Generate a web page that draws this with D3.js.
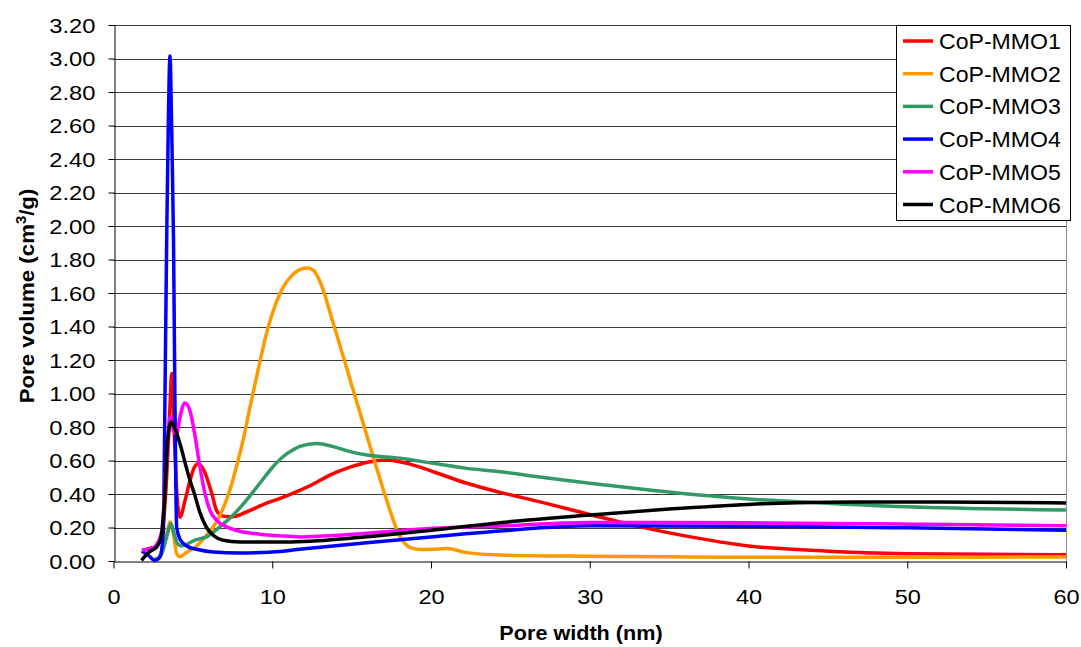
<!DOCTYPE html>
<html>
<head>
<meta charset="utf-8">
<script src="https://cdn.jsdelivr.net/npm/d3@7"></script>
<style>
  html, body { margin: 0; padding: 0; background: #fff; }
  text { font-family: "Liberation Sans", Arial, sans-serif; }
</style>
</head>
<body>
<svg id="chart" width="1081" height="647"></svg>
<script>
// ---- data ----
const seriesNames = ["CoP-MMO1", "CoP-MMO2", "CoP-MMO3", "CoP-MMO4", "CoP-MMO5", "CoP-MMO6"];
const xTicks = [0, 10, 20, 30, 40, 50, 60];
const yTicks = [0, 0.2, 0.4, 0.6, 0.8, 1.0, 1.2, 1.4, 1.6, 1.8, 2.0, 2.2, 2.4, 2.6, 2.8, 3.0, 3.2];

const mmo1 = [[1.8,0.065],[2.2,0.074],[2.6,0.084],[3.0,0.14],[3.3,0.42],[3.5,0.8],[3.68,1.12],[3.82,0.78],[3.98,0.42],[4.19,0.262],[4.5,0.36],[4.82,0.48],[5.1,0.56],[5.35,0.58],[5.7,0.54],[6.2,0.40],[6.5,0.30],[6.9,0.268],[7.5,0.264],[8.4,0.294],[9.6,0.344],[10.5,0.374],[11.7,0.42],[12.5,0.455],[13.8,0.52],[14.9,0.56],[16,0.59],[17.2,0.603],[18.5,0.583],[20.15,0.533],[22.25,0.464],[24.35,0.41],[27,0.35],[30,0.278],[32.7,0.214],[36,0.15],[40,0.09],[44.8,0.06],[50,0.044],[55,0.04],[60,0.038]];
const mmo2 = [[2.5,0.01],[2.8,0.01],[3.04,0.064],[3.35,0.163],[3.56,0.233],[3.77,0.163],[3.98,0.044],[4.19,0.026],[4.5,0.044],[4.82,0.064],[5.13,0.08],[5.5,0.115],[5.86,0.154],[6.49,0.234],[6.91,0.314],[7.33,0.424],[7.75,0.564],[8.17,0.724],[8.6,0.92],[9.2,1.18],[9.64,1.36],[10.2,1.53],[10.69,1.635],[11.3,1.71],[11.8,1.742],[12.23,1.75],[12.6,1.735],[13.0,1.67],[13.84,1.42],[15.1,1.02],[16.37,0.62],[17.2,0.364],[18.05,0.145],[18.7,0.08],[19.4,0.068],[20.15,0.07],[21,0.074],[22.25,0.05],[24.35,0.036],[30,0.028],[40,0.022],[50,0.022],[60,0.024]];
const mmo3 = [[2.6,0.004],[3.04,0.044],[3.35,0.143],[3.62,0.223],[3.82,0.163],[4.04,0.103],[4.29,0.09],[4.71,0.104],[5.13,0.125],[5.86,0.144],[6.7,0.204],[7.54,0.274],[8.38,0.364],[9.22,0.464],[10.06,0.564],[10.69,0.624],[11.32,0.664],[11.74,0.684],[12.8,0.702],[13.84,0.683],[14.9,0.653],[15.95,0.633],[18.05,0.613],[20.15,0.583],[22.25,0.553],[24.35,0.533],[27,0.5],[30,0.464],[33.9,0.422],[40,0.37],[43.1,0.354],[50,0.324],[60,0.304]];
const mmo4 = [[1.78,0.06],[2.2,0.034],[2.6,0.004],[2.93,0.024],[3.14,0.18],[3.24,0.96],[3.35,1.92],[3.45,2.6],[3.56,3.015],[3.66,2.6],[3.78,1.92],[3.87,0.96],[3.98,0.2],[4.19,0.13],[4.6,0.09],[5.23,0.07],[6.28,0.054],[7.96,0.048],[10,0.054],[11.74,0.07],[12.37,0.076],[15.95,0.109],[20.15,0.145],[24.35,0.179],[30,0.21],[40,0.208],[50,0.198],[60,0.184]];
const mmo5 = [[1.8,0.065],[2.2,0.07],[2.6,0.085],[2.73,0.1],[3.04,0.18],[3.35,0.62],[3.56,0.86],[3.77,0.78],[3.98,0.76],[4.19,0.86],[4.5,0.944],[4.82,0.895],[5.13,0.75],[5.44,0.564],[5.76,0.404],[6.07,0.304],[6.49,0.244],[7.12,0.204],[7.96,0.178],[9.22,0.16],[10.48,0.15],[11.74,0.144],[12.37,0.145],[15.95,0.165],[20.15,0.195],[24.35,0.209],[30,0.23],[40,0.228],[50,0.22],[60,0.21]];
const mmo6 = [[1.77,0.004],[2.09,0.04],[2.41,0.064],[2.72,0.084],[3.0,0.143],[3.2,0.342],[3.41,0.72],[3.62,0.83],[3.87,0.79],[4.19,0.70],[4.5,0.59],[4.82,0.48],[5.1,0.4],[5.44,0.29],[5.86,0.2],[6.28,0.154],[6.91,0.124],[7.96,0.114],[10,0.113],[12.37,0.118],[15.95,0.145],[20.15,0.185],[24.35,0.229],[30,0.274],[35,0.31],[40,0.338],[43.1,0.348],[46.7,0.352],[52,0.352],[60,0.346]];

const seriesData = [mmo1, mmo2, mmo3, mmo4, mmo5, mmo6];
const seriesColors = ["#FF0000", "#FF9900", "#339966", "#0000FF", "#FF00FF", "#000000"];

// ---- chart ----
const svg = d3.select("#chart");
svg.append("rect").attr("width", 1081).attr("height", 647).attr("fill", "#fff");

const x = d3.scaleLinear().domain([0, 60]).range([113.5, 1066]);
const y = d3.scaleLinear().domain([0, 3.2]).range([561, 25]);

// gridlines
svg.append("g").selectAll("line").data(yTicks.slice(1)).join("line")
  .attr("x1", x(0)).attr("x2", x(60))
  .attr("y1", d => Math.round(y(d)) + 0.5).attr("y2", d => Math.round(y(d)) + 0.5)
  .attr("stroke", "#3a3a3a").attr("stroke-width", 1);

// right border
svg.append("line").attr("x1", Math.round(x(60)) + 0.5).attr("x2", Math.round(x(60)) + 0.5)
  .attr("y1", y(3.2)).attr("y2", y(0)).attr("stroke", "#8c8c8c").attr("stroke-width", 1);

// axes
const yAxis = svg.append("g").attr("transform", `translate(${Math.round(x(0)) + 0.5},0)`)
  .call(d3.axisLeft(y).tickValues(yTicks).tickSize(6).tickSizeOuter(0).tickFormat(d3.format(".2f")));
const xAxis = svg.append("g").attr("transform", `translate(0,${Math.round(y(0)) + 0.5})`)
  .call(d3.axisBottom(x).tickValues(xTicks).tickSize(7).tickSizeOuter(0).tickFormat(d3.format("d")));

[yAxis, xAxis].forEach(g => {
  g.select(".domain").attr("stroke", "#000").attr("stroke-width", 1);
  g.selectAll(".tick line").attr("stroke", "#000");
  g.selectAll(".tick text").attr("font-size", 21).attr("fill", "#000")
    .attr("font-family", "'Liberation Sans', Arial, sans-serif");
});
// slightly wider glyphs as in the reference
yAxis.selectAll(".tick text").attr("x", null).attr("dy", "0.35em")
  .attr("transform", "translate(-19,0) scale(1.13,1)");
xAxis.selectAll(".tick text").attr("y", null).attr("dy", null)
  .attr("transform", "translate(0,42) scale(1.12,1)");

// lines
const line = d3.line().x(d => x(d[0])).y(d => y(d[1])).curve(d3.curveMonotoneX);
svg.append("g").selectAll("path").data(seriesData).join("path")
  .attr("d", d => line(d))
  .attr("fill", "none")
  .attr("stroke", (d, i) => seriesColors[i])
  .attr("stroke-width", 3.5)
  .attr("stroke-linejoin", "round");

// axis titles
svg.append("text").attr("transform", "translate(581,640) scale(1.03,1)").attr("text-anchor", "middle")
  .attr("font-size", 21).attr("font-weight", "bold").text("Pore width (nm)");

const yt = svg.append("text").attr("transform", "translate(34,296) rotate(-90) scale(1.06,1)")
  .attr("text-anchor", "middle").attr("font-size", 21).attr("font-weight", "bold");
yt.append("tspan").text("Pore volume (cm");
yt.append("tspan").attr("font-size", 14).attr("dy", -8).text("3");
yt.append("tspan").attr("dy", 8).text("/g)");

// legend
const lg = svg.append("g");
lg.append("rect").attr("x", 896.5).attr("y", 25.5).attr("width", 174).attr("height", 195)
  .attr("fill", "#fff").attr("stroke", "#000").attr("stroke-width", 1);
const rows = lg.selectAll("g.row").data(seriesNames).join("g").attr("class", "row")
  .attr("transform", (d, i) => `translate(0,${41 + i * 32.7})`);
rows.append("line").attr("x1", 903).attr("x2", 933).attr("y1", 0).attr("y2", 0)
  .attr("stroke", (d, i) => seriesColors[i]).attr("stroke-width", 3.5);
rows.append("text").attr("transform", "translate(939,8) scale(1.05,1)")
  .attr("font-size", 22).attr("fill", "#000").text(d => d);
</script>
</body>
</html>
